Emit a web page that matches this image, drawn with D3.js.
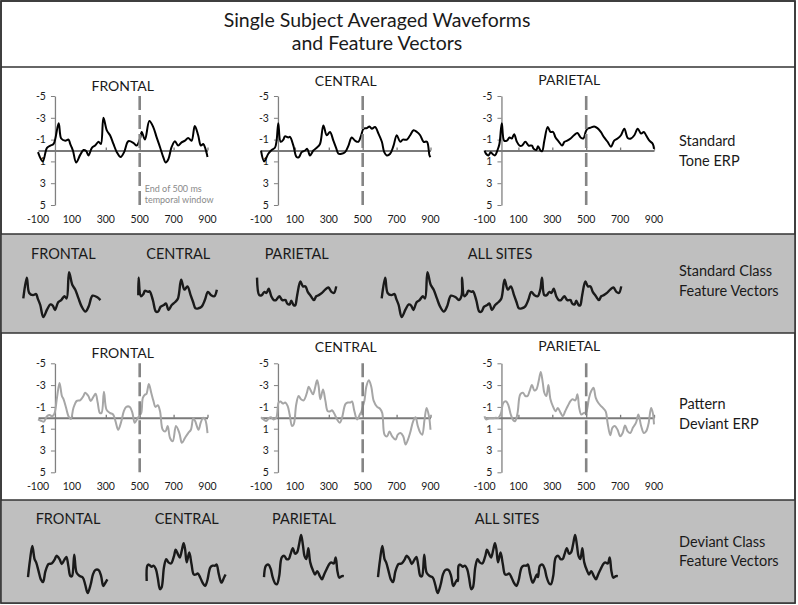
<!DOCTYPE html>
<html>
<head>
<meta charset="utf-8">
<script src="https://cdn.jsdelivr.net/npm/d3@7"></script>
<style>
  body { margin: 0; background: #fff; }
  text { font-family: Lato, "Open Sans", sans-serif; fill: #1a1a1a; }
</style>
</head>
<body>
<svg id="fig" width="798" height="605"></svg>
<script>
// values: [ms, microvolts]
var stdFrontal = [[-100,0.15],[-72,1.0],[-47,-0.25],[-27,-0.45],[-8,-0.6],[22,-2.5],[37,-1.1],[61,-0.9],[80,-1.0],[90,-0.6],[106,0],[125,1.1],[149,0.4],[169,-0.05],[184,0.05],[198,0.45],[218,-0.25],[237,-0.45],[257,-0.8],[271,-0.6],[286,-3.0],[306,-1.85],[325,-1.4],[345,-0.6],[365,0.15],[388,0.6],[408,0.15],[433,-0.85],[463,-0.7],[482,-0.45],[502,-1.1],[512,-1.7],[531,-1.0],[557,-2.7],[580,-2.15],[600,-1.2],[620,-0.3],[639,0.6],[653,1.1],[669,0.8],[688,-0.3],[708,-0.85],[727,-0.45],[747,-0.75],[767,-0.9],[786,-1.15],[806,-0.9],[825,-2.25],[845,-1.4],[861,-0.45],[875,-0.6],[888,-0.15],[900,0.6]];
var stdCentral = [[-100,0],[-81,1.0],[-57,0.3],[-37,-0.05],[-18,-0.25],[-8,-0.9],[2,-2.5],[16,-0.8],[32,-1.0],[41,-1.3],[61,-1.2],[71,-1.25],[91,-0.45],[110,0.6],[124,0.6],[140,0.15],[160,0],[173,-0.15],[189,0.45],[209,0],[229,-0.25],[248,-0.6],[268,-2.3],[288,-1.4],[307,-1.7],[327,-0.9],[343,-0.25],[357,0.3],[376,0.3],[396,0.15],[416,-0.45],[435,-1.2],[455,-0.9],[475,-0.8],[491,-1.4],[505,-2.0],[524,-2.05],[540,-2.2],[554,-2.0],[573,-2.15],[593,-1.55],[613,-0.8],[627,0.15],[642,0.45],[662,0.3],[682,-0.45],[701,-1.4],[721,-0.8],[737,-1.0],[761,-1.0],[780,-1.4],[800,-1.85],[820,-1.7],[839,-1.4],[859,-0.8],[879,-0.8],[894,0.45],[900,0.6]];
var stdParietal = [[-100,0],[-91,0.3],[-77,0.45],[-63,0.15],[-51,0.35],[-38,0.45],[-24,0],[-12,-0.6],[2,-2.5],[16,-0.9],[32,-0.9],[48,-1.2],[61,-1.1],[75,-1.5],[91,-0.8],[107,-0.45],[121,-0.45],[141,-0.8],[160,-0.45],[180,-0.45],[190,-0.15],[206,-0.05],[216,-0.4],[230,0],[240,0.05],[253,-0.9],[273,-2.15],[289,-1.7],[305,-1.7],[319,-1.2],[339,-0.8],[358,-0.45],[372,-0.8],[388,-0.9],[408,-1.1],[428,-1.4],[448,-1.6],[467,-1.2],[483,-1.1],[497,-1.7],[507,-2.0],[527,-2.1],[547,-2.2],[566,-2.05],[586,-1.7],[606,-1.2],[626,-0.8],[646,-0.35],[665,-0.9],[685,-1.1],[705,-1.4],[725,-2.0],[745,-1.15],[764,-1.1],[784,-1.4],[804,-2.0],[824,-1.55],[840,-1.7],[853,-1.4],[873,-0.9],[893,-0.6],[900,-0.15]];

var devFrontal = [[-100,0.15],[-86,0.25],[-66,0.35],[-47,-0.15],[-31,-0.25],[-18,-0.15],[-4,-0.35],[12,-1.85],[27,-3.2],[41,-2.0],[51,-1.7],[66,-0.9],[80,-0.15],[94,0.1],[109,-0.9],[129,-1.55],[148,-1.6],[168,-2.0],[178,-2.3],[197,-2.0],[211,-1.55],[226,-1.9],[240,-2.2],[252,-1.4],[265,-0.45],[275,-0.45],[289,-2.4],[304,-0.75],[324,-0.45],[343,-0.3],[357,0.3],[373,1.1],[392,0.3],[406,-0.6],[421,-1.0],[441,-1.0],[457,-0.45],[470,0.45],[480,0.25],[496,-0.15],[509,-0.45],[519,-1.85],[533,-2.15],[540,-2.2],[554,-3.1],[568,-2.3],[581,-1.55],[593,-1.0],[607,-1.15],[620,-0.6],[636,1.1],[652,1.25],[665,0.75],[679,1.85],[695,2.15],[714,0.75],[734,1.4],[749,2.3],[767,1.85],[786,1.4],[802,1.1],[816,0.05],[827,0.3],[847,1.1],[860,0.45],[874,0],[886,0.15],[900,1.4]];
var devCentral = [[-100,-0.05],[-85,0.15],[-69,0.3],[-55,0.05],[-41,-0.05],[-26,0.15],[-10,0],[4,-1.4],[14,-1.5],[30,-1.3],[43,-1.4],[57,-1.1],[69,-0.3],[83,0.75],[93,0.6],[108,-1.25],[122,-2.0],[136,-1.7],[152,-1.6],[171,-2.3],[181,-2.85],[195,-2.45],[207,-2.15],[221,-2.9],[231,-3.45],[240,-2.9],[250,-1.7],[266,-2.6],[280,-1.55],[294,-0.6],[309,-0.6],[319,-0.7],[335,-0.3],[349,0.15],[365,0.45],[378,0],[398,-1.25],[412,-1.4],[428,-1.4],[437,-1.5],[451,-0.6],[467,0.15],[483,-0.3],[493,-0.6],[502,-1.1],[510,-1.55],[522,-2.9],[536,-3.45],[550,-2.9],[565,-1.55],[585,-1.0],[601,-0.85],[615,-0.45],[629,1.55],[644,1.7],[658,1.25],[674,1.7],[694,2.0],[707,1.55],[723,1.4],[739,1.7],[753,2.45],[767,2.0],[782,1.25],[798,0.3],[812,-0.05],[825,0.75],[841,1.4],[851,1.55],[865,0.15],[877,-0.9],[891,-0.15],[900,1.1]];
var devParietal = [[-100,-0.15],[-91,0.15],[-71,0.05],[-51,0.05],[-32,0],[-18,0],[-4,-0.35],[12,-1.4],[28,-1.5],[42,-1.1],[55,-0.3],[71,0.25],[81,0.3],[95,-0.45],[111,-2.15],[127,-2.3],[141,-2.0],[154,-2.0],[166,-2.45],[180,-3.0],[194,-2.5],[206,-2.6],[220,-3.4],[232,-4.2],[244,-3.2],[253,-2.3],[265,-2.0],[277,-3.0],[289,-1.7],[305,-1.0],[319,-0.6],[333,-0.9],[349,-0.45],[362,-0.15],[376,-0.6],[392,-1.1],[408,-1.55],[420,-1.7],[436,-1.6],[448,-2.15],[459,-0.9],[471,-0.3],[487,-0.45],[499,-0.45],[507,-0.9],[517,-1.85],[531,-2.5],[543,-2.75],[556,-1.85],[570,-1.4],[586,-1.1],[602,-0.85],[616,-0.55],[626,0.45],[642,1.6],[655,0.9],[669,0.75],[685,1.1],[701,1.7],[715,1.4],[729,0.7],[745,1.25],[760,1.4],[776,0.9],[794,0.45],[808,-0.3],[824,0.75],[840,1.4],[853,1.25],[867,0.6],[883,-0.9],[893,-0.45],[900,0.6]];

var sites = ["FRONTAL", "CENTRAL", "PARIETAL"];
var xTicks = [-100, 100, 300, 500, 700, 900];
var yTicks = [-5, -3, -1, 1, 3, 5];
var windowEnd = 500;

var svg = d3.select("#fig");

//frame and row bands
svg.append("rect").attr("x", 1).attr("y", 1).attr("width", 794).attr("height", 602)
    .attr("fill", "#fff").attr("stroke", "#333").attr("stroke-width", 1.5);
svg.append("rect").attr("x", 1).attr("y", 234).attr("width", 794).attr("height", 99).attr("fill", "#bfbfbf");
svg.append("rect").attr("x", 1).attr("y", 500).attr("width", 794).attr("height", 103).attr("fill", "#bfbfbf");
[67, 234, 333, 500].forEach(function(y) {
    svg.append("line").attr("x1", 1).attr("x2", 795).attr("y1", y).attr("y2", y)
        .attr("stroke", "#333").attr("stroke-width", 1.5);
});
svg.append("rect").attr("x", 1).attr("y", 1).attr("width", 794).attr("height", 602)
    .attr("fill", "none").attr("stroke", "#333").attr("stroke-width", 1.5);

//title
svg.append("text").attr("x", 377).attr("y", 26.5).attr("text-anchor", "middle")
    .style("font-size", "19.5px").text("Single Subject Averaged Waveforms");
svg.append("text").attr("x", 377).attr("y", 50).attr("text-anchor", "middle")
    .style("font-size", "19.5px").text("and Feature Vectors");

//row labels on the right
function rowLabel(lines, y) {
    lines.forEach(function(t, i) {
        svg.append("text").attr("x", 679).attr("y", y + i * 19.5)
            .style("font-size", "14.5px").text(t);
    });
}
rowLabel(["Standard", "Tone ERP"], 146);
rowLabel(["Standard Class", "Feature Vectors"], 276);
rowLabel(["Pattern", "Deviant ERP"], 409);
rowLabel(["Deviant Class", "Feature Vectors"], 546.5);

var line = d3.line().curve(d3.curveCatmullRom.alpha(0.5));

function drawErp(data, x0, yTop, color, title, titleY, note) {
    var g = svg.append("g");
    var x = d3.scaleLinear().domain([-100, 900]).range([x0, x0 + 169.5]);
    var y = d3.scaleLinear().domain([-5, 5]).range([yTop, yTop + 109]);

    g.append("text").attr("x", x(400)).attr("y", titleY).attr("text-anchor", "middle")
        .style("font-size", "14px").text(title);

    //y axis at 0 ms
    var ya = g.append("g").attr("transform", "translate(" + x(0) + ",0)")
        .call(d3.axisLeft(y).tickValues(yTicks).tickSize(4).tickSizeOuter(0).tickPadding(5)
            .tickFormat(function(d) { return String(d); }));
    ya.select(".domain").attr("stroke", "#808080").attr("stroke-width", 1.3);
    ya.selectAll(".tick line").attr("stroke", "#808080");
    ya.selectAll(".tick text").style("font-size", "10.5px").attr("fill", "#1a1a1a")
        .style("font-family", "Lato, sans-serif");

    //zero line with small ticks
    var xa = g.append("g").attr("transform", "translate(0," + y(0) + ")")
        .call(d3.axisTop(x).tickValues(xTicks.slice(1)).tickSize(3).tickSizeOuter(0).tickFormat(""));
    xa.select(".domain").attr("stroke", "#7a7a7a").attr("stroke-width", 2);
    xa.selectAll(".tick line").attr("stroke", "#7a7a7a").attr("stroke-width", 1.3);

    //tick labels below the plot
    g.selectAll("text.xl").data(xTicks).join("text").attr("class", "xl")
        .attr("x", function(d) { return x(d); }).attr("y", y(5) + 18)
        .attr("text-anchor", "middle").style("font-size", "10.5px")
        .text(function(d) { return String(d); });

    g.append("path").datum(data)
        .attr("d", line.x(function(d) { return x(d[0]); }).y(function(d) { return y(d[1]); }))
        .attr("fill", "none").attr("stroke", color).attr("stroke-width", 2);

    g.append("line").attr("x1", x(windowEnd)).attr("x2", x(windowEnd))
        .attr("y1", y(-5)).attr("y2", y(5))
        .attr("stroke", "#858585").attr("stroke-width", 2.6).attr("stroke-dasharray", "14,5");

    if (note) {
        note.forEach(function(t, i) {
            g.append("text").attr("x", x(windowEnd) + 5).attr("y", y(3) + 9 + i * 11)
                .style("font-size", "9px").style("fill", "#8a8a8a").text(t);
        });
    }
}

var colX = [38, 261, 484.5];
var stdSeries = [stdFrontal, stdCentral, stdParietal];
var devSeries = [devFrontal, devCentral, devParietal];
var stdTitleY = [91, 85.5, 85];
var devTitleY = [357.5, 351.5, 351];

stdSeries.forEach(function(s, i) {
    drawErp(s, colX[i], 96, "#000", sites[i], stdTitleY[i],
        i == 0 ? ["End of 500 ms", "temporal window"] : null);
});
devSeries.forEach(function(s, i) {
    drawErp(s, colX[i], 363.3, "#a6a6a6", sites[i], devTitleY[i], null);
});

//feature vectors: the 0-500 ms window of each site, and all sites joined
function windowed(s) {
    return s.filter(function(d) { return d[0] >= -10 && d[0] <= windowEnd; })
        .map(function(d) { return [Math.max(d[0], 0), d[1]]; });
}

function drawFeature(series, x0, nSeg, baseY, title, titleX, titleY) {
    var pts = [];
    series.forEach(function(s, k) {
        windowed(s).forEach(function(d) { pts.push([d[0] + k * windowEnd, d[1]]); });
    });
    var x = d3.scaleLinear().domain([0, nSeg * windowEnd]).range([x0, x0 + nSeg * 80]);
    var y = d3.scaleLinear().domain([-5, 5]).range([baseY - 54.75, baseY + 54.75]);
    svg.append("text").attr("x", titleX).attr("y", titleY).attr("text-anchor", "middle")
        .style("font-size", "14.5px").text(title);
    svg.append("path").datum(pts)
        .attr("d", line.x(function(d) { return x(d[0]); }).y(function(d) { return y(d[1]); }))
        .attr("fill", "none").attr("stroke", "#1a1a1a").attr("stroke-width", 2.4)
        .attr("stroke-linejoin", "round");
}

var stdFeatX = [23.3, 138.3, 256.7];
var devFeatX = [28, 146.7, 264];
sites.forEach(function(name, i) {
    drawFeature([stdSeries[i]], stdFeatX[i], 1, 305, name, stdFeatX[i] + 40, 259);
    drawFeature([devSeries[i]], devFeatX[i], 1, 581, name, devFeatX[i] + 40, 524);
});
drawFeature(stdSeries, 381.7, 3, 305, "ALL SITES", 500, 259);
drawFeature(devSeries, 378, 3, 581, "ALL SITES", 507, 524);
</script>
</body>
</html>
